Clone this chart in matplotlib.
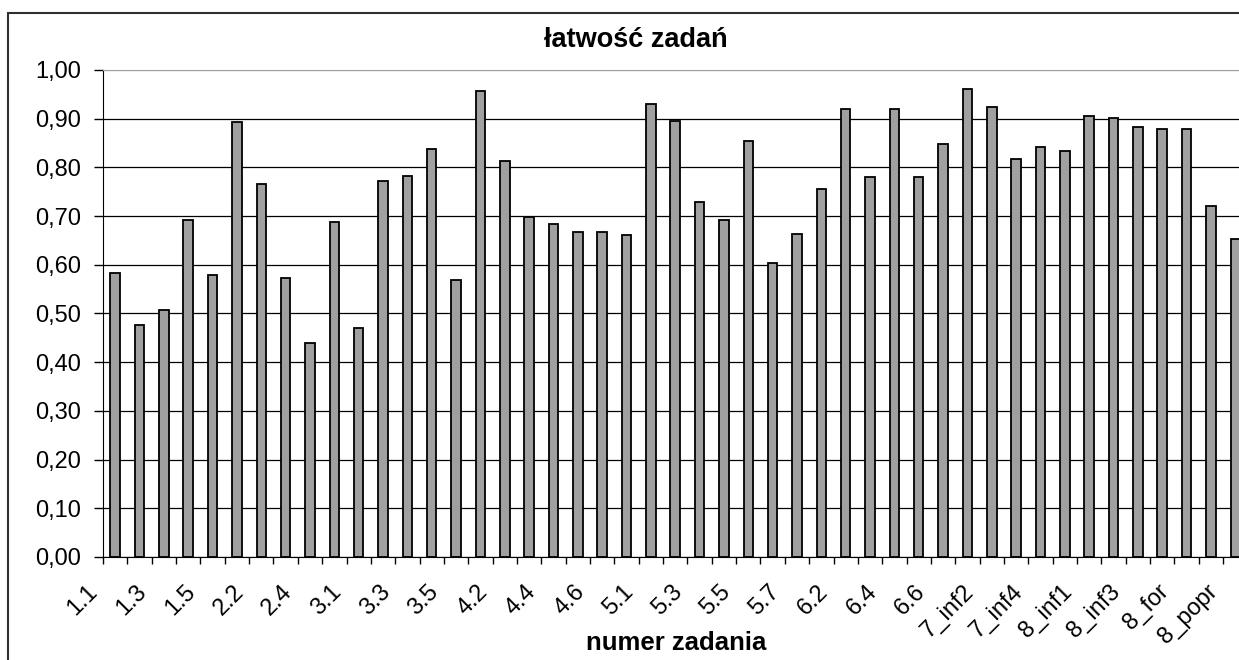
import matplotlib
matplotlib.use("Agg")
import matplotlib.pyplot as plt
import matplotlib.transforms as mtransforms
from matplotlib.patches import Rectangle
from matplotlib.ticker import FuncFormatter

plt.rcParams['font.family'] = ['Liberation Sans', 'DejaVu Sans']

# Data
zadania = ["1.1", "1.2", "1.3", "1.4", "1.5", "2.1", "2.2", "2.3", "2.4", "2.5",
           "3.1", "3.2", "3.3", "3.4", "3.5", "4.1", "4.2", "4.3", "4.4", "4.5",
           "4.6", "4.7", "5.1", "5.2", "5.3", "5.4", "5.5", "5.6", "5.7", "6.1",
           "6.2", "6.3", "6.4", "6.5", "6.6", "7_inf1", "7_inf2", "7_inf3", "7_inf4",
           "7_popr", "8_inf1", "8_inf2", "8_inf3", "8_inf4", "8_for", "8_kom", "8_popr"]
latwosc = [0.583, 0.476, 0.507, 0.691, 0.579, 0.893, 0.766, 0.572, 0.439, 0.688,
           0.470, 0.773, 0.783, 0.838, 0.569, 0.957, 0.814, 0.699, 0.684, 0.667,
           0.667, 0.661, 0.930, 0.896, 0.728, 0.691, 0.855, 0.603, 0.664, 0.756,
           0.919, 0.780, 0.919, 0.780, 0.848, 0.960, 0.923, 0.817, 0.841, 0.834,
           0.906, 0.902, 0.882, 0.879, 0.879, 0.721, 0.653]
y_ticks = [i / 10 for i in range(11)]

W, H = 1239, 660
fig = plt.figure(figsize=(W / 100, H / 100), dpi=100)

# chart frame - the original picture is cut on the right and at the bottom
fig.patches.append(Rectangle((8 / W, -0.1), 1.2, (H - 13) / H + 0.1,
                             transform=fig.transFigure, fill=False,
                             edgecolor='#303030', linewidth=1.5))

slot = 24.35  # width of one category in pixels
ax = fig.add_axes([103 / W, (H - 557) / H, len(zadania) * slot / W, (557 - 70) / H])
ax.set_facecolor('none')

x = list(range(len(zadania)))
ax.bar(x, latwosc, width=0.39, color='#a0a0a0', edgecolor='black', linewidth=1.3)

ax.set_xlim(-0.5, len(zadania) - 0.5)
ax.set_ylim(0, 1)

# y axis
ax.set_yticks(y_ticks)
ax.yaxis.set_major_formatter(FuncFormatter(lambda v, p: f"{v:.2f}".replace('.', ',')))
ax.tick_params(axis='y', length=6.5, width=1, direction='out', labelsize=17, pad=9)
ax.set_axisbelow(True)
ax.yaxis.grid(True, color='black', linewidth=0.9)
ax.get_ygridlines()[-1].set_color('#a0a0a0')

# x axis: tick marks between categories, label on every other one
ax.set_xticks(x[::2])
ax.set_xticklabels(zadania[::2], rotation=45, ha='right', va='top', fontsize=17)
ax.set_xticks([i - 0.5 for i in range(len(zadania) + 1)], minor=True)
ax.tick_params(axis='x', which='major', length=0, pad=17)
ax.tick_params(axis='x', which='minor', length=5, width=1, direction='out')
shift = mtransforms.ScaledTranslation(-13 / 100, 0, fig.dpi_scale_trans)
for lbl in ax.get_xticklabels():
    lbl.set_transform(lbl.get_transform() + shift)

# spines
ax.spines['left'].set_color('black')
ax.spines['bottom'].set_color('black')
ax.spines['top'].set_color('#a0a0a0')
ax.spines['right'].set_visible(False)

fig.text(636 / W, (H - 47) / H, 'łatwość zadań', ha='center', va='baseline',
         fontsize=19.5, fontweight='bold')
fig.text(676 / W, (H - 650) / H, 'numer zadania', ha='center', va='baseline',
         fontsize=18.5, fontweight='bold')

fig.savefig('out.png', dpi=100)
